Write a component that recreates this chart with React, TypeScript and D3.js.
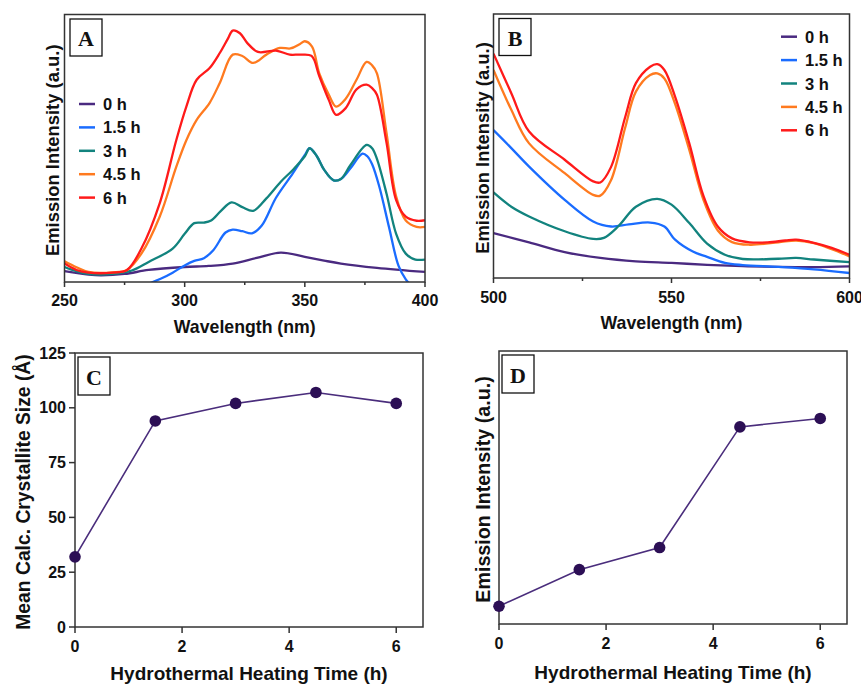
import React from 'react';
import * as d3 from 'd3';

// ---- Panel A: excitation spectra (wavelength nm, intensity 0-100 a.u.)
const a0h = [[250,4.1],[260,2.8],[265,2.5],[275,3],[285,4.5],[300,5.6],[310,6],[320,6.9],[330,9],[340,11],[350,9.4],[358,8],[365,6.9],[380,5.3],[400,3.75]];
const a15h = [[284,-1],[290,1.2],[295,3.5],[300,6.2],[304,7.9],[308,8.9],[312,12],[317,18.5],[320,19.6],[324,19],[328,18.2],[332,21],[338,31.5],[345,40.6],[350,47.5],[352,50],[355,47],[358,42],[362,38],[365,38.5],[369,42.5],[374,48],[376,47],[378,44],[381,35.6],[385,20.6],[389,6],[392,1],[395,-2]];
const a3h = [[250,5.6],[255,4],[260,3],[270,3],[278,4.3],[285,7.5],[295,12.5],[300,18],[304,22],[308,22.2],[311,23],[315,26.5],[319.5,29.75],[324,28],[328.5,26.6],[334,31.25],[340,37.5],[345,41.9],[350,47],[352,50],[355,47],[358,42],[362,38],[365,38.5],[369,43.75],[375.7,51.25],[378,50],[380,46],[384,33],[388,18],[392,10.6],[396,8.4],[400,8.4]];
const a45h = [[250,7.75],[255,5.5],[260,3.75],[270,3.6],[276,4.5],[282,10.6],[289.6,24.4],[296.5,43],[300.7,53],[305,60.6],[310.4,67],[314.6,74.4],[320,85],[324,84.5],[328.5,81.9],[334,85],[339.6,87.5],[344,87.3],[348,89],[350,90],[353,88],[356,78],[360,70],[363,65.6],[367,68.5],[371.5,75.6],[375.7,82.25],[378,81],[380,78],[384,55.6],[388,31.9],[392,23],[396.5,20.6],[400,20.6]];
const a6h = [[250,6.9],[255,4.5],[260,3.5],[270,3.5],[276,4.5],[282,12.5],[289.6,29.4],[296.5,53],[300.7,65.6],[305,75.6],[310.4,80],[314.6,85.6],[318,91],[320,94],[323,93],[326,89.4],[330.5,86],[338,86.5],[343.75,85],[348,85],[352.8,84.5],[356,77],[360,68],[363,62.5],[367,65],[371.5,72],[375.7,73.75],[378,72.5],[380,70],[384,52],[388,30.6],[392,24.4],[396.5,22.9],[400,23.1]];

// ---- Panel B: emission spectra
const b0h = [[500,17],[510,13.5],[520,9.8],[530,7.6],[540,6.3],[550,5.7],[560,5],[570,4.5],[580,4.2],[590,4.1],[600,4.4]];
const b15h = [[500,56],[505,49.2],[510,42.2],[520,29.6],[528,21.4],[533,19.5],[538,20.3],[544,21],[548,19.5],[551,14.5],[556,10],[560,8],[565,5.7],[570,4.9],[580,4.2],[590,3.3],[600,1.9]];
const b3h = [[500,32.4],[505,27],[510,23.3],[520,17.7],[528,14.8],[531,15.2],[535,19.5],[540,27],[546,30],[550,27.8],[555,20.8],[560,13],[565,8.8],[570,7.2],[580,7.3],[585,7.6],[590,7],[600,6]];
const b45h = [[500,78.8],[505,63.7],[510,51],[520,39.7],[528,31.5],[530,31.2],[533,37],[537,57],[540,70.6],[544,76.9],[546,77.5],[548,75.6],[551,66],[555,48.5],[559,29.5],[563,18],[567,13.6],[572,12.6],[580,13.5],[585,14.2],[590,13.2],[595,10.9],[600,8.2]];
const b6h = [[500,85],[505,70],[510,55.5],[520,44.8],[528,36.6],[530,36.2],[533,42],[537,61],[540,73.8],[544,80],[546,81],[548,78.8],[551,68.7],[555,51],[559,31],[563,19.5],[567,15],[572,13.5],[577,13.5],[582,14.2],[585,14.5],[590,13.3],[595,11.4],[600,8.8]];

const seriesNames = ['0 h', '1.5 h', '3 h', '4.5 h', '6 h'];
const seriesColors = ['#4a2a80', '#1a6cff', '#12837e', '#ff7a1f', '#ff1a1a'];

// ---- Panels C and D
const heatTimes = [0, 1.5, 3, 4.5, 6];
const crystalliteSize = [32, 94, 102, 107, 102];
const emissionPeak = [6.5, 19.9, 28, 72.2, 75.3];

const sans = '"Liberation Sans", Arial, sans-serif';
const serif = '"Liberation Serif", "Times New Roman", serif';
const ink = '#111';
const frame = '#333';

type Box = { l: number; r: number; t: number; b: number };

function SpectrumPanel({ box, xDomain, series, letter, legendX, legendY, xTicks, minorTicks, tickLabelY, xLabelY, yLabelX, clipId }:
  { box: Box; xDomain: number[]; series: number[][][]; letter: string; legendX: number; legendY: number; xTicks: number[]; minorTicks: number[]; tickLabelY: number; xLabelY: number; yLabelX: number; clipId: string }) {
  const x = d3.scaleLinear().domain(xDomain).range([box.l, box.r]);
  const y = d3.scaleLinear().domain([0, 100]).range([box.b, box.t]);
  const line = d3.line<number[]>().x(d => x(d[0])).y(d => y(d[1])).curve(d3.curveCatmullRom.alpha(0.5));
  return (
    <g>
      <defs>
        <clipPath id={clipId}><rect x={box.l} y={box.t} width={box.r - box.l} height={box.b - box.t} /></clipPath>
      </defs>
      <g clipPath={`url(#${clipId})`}>
        {series.map((s, i) => (
          <path key={i} d={line(s) || ''} fill="none" stroke={seriesColors[i]} strokeWidth={2.3} />
        ))}
      </g>
      <rect x={box.l} y={box.t} width={box.r - box.l} height={box.b - box.t} fill="none" stroke={frame} strokeWidth={1.5} />
      {xTicks.map(t => (
        <g key={t}>
          <line x1={x(t)} x2={x(t)} y1={box.b} y2={box.b + 5} stroke={frame} strokeWidth={1.5} />
          <text x={x(t)} y={tickLabelY} textAnchor="middle" dominantBaseline="central" fontFamily={sans} fontWeight="bold" fontSize={16} fill={ink}>{t}</text>
        </g>
      ))}
      {minorTicks.map(t => (
        <line key={t} x1={x(t)} x2={x(t)} y1={box.b} y2={box.b + 3} stroke={frame} strokeWidth={1.5} />
      ))}
      <text x={(box.l + box.r) / 2} y={xLabelY} textAnchor="middle" dominantBaseline="central" fontFamily={sans} fontWeight="bold" fontSize={17.7} fill={ink}>Wavelength (nm)</text>
      <text transform={`translate(${yLabelX},${(box.t + box.b) / 2 + 2}) rotate(-90)`} textAnchor="middle" dominantBaseline="central" fontFamily={sans} fontWeight="bold" fontSize={18.4} fill={ink}>Emission Intensity (a.u.)</text>
      <rect x={box.l + 5.5} y={box.t + 4.5} width={32} height={37} fill="#fff" stroke={ink} strokeWidth={1.3} />
      <text x={box.l + 21.5} y={box.t + 24} textAnchor="middle" dominantBaseline="central" fontFamily={serif} fontWeight="bold" fontSize={22} fill={ink}>{letter}</text>
      {seriesNames.map((n, i) => (
        <g key={n}>
          <line x1={legendX} x2={legendX + 16} y1={legendY + i * 23.4} y2={legendY + i * 23.4} stroke={seriesColors[i]} strokeWidth={2.5} />
          <text x={legendX + 24} y={legendY + i * 23.4} dominantBaseline="central" fontFamily={sans} fontWeight="bold" fontSize={16.5} fill={ink}>{n}</text>
        </g>
      ))}
    </g>
  );
}

function TimePanel({ box, values, yDomain, yTicks, letter, yLabel, yLabelX, yLabelSize, tickLabelY, xLabelY }:
  { box: Box; values: number[]; yDomain: number[]; yTicks: number[]; letter: string; yLabel: string; yLabelX: number; yLabelSize: number; tickLabelY: number; xLabelY: number }) {
  const x = d3.scaleLinear().domain([0, 6.5]).range([box.l, box.r]);
  const y = d3.scaleLinear().domain(yDomain).range([box.b, box.t]);
  const pts = heatTimes.map((t, i) => [t, values[i]]);
  const line = d3.line<number[]>().x(d => x(d[0])).y(d => y(d[1]));
  return (
    <g>
      <rect x={box.l} y={box.t} width={box.r - box.l} height={box.b - box.t} fill="none" stroke={frame} strokeWidth={1.5} />
      {[0, 2, 4, 6].map(t => (
        <g key={t}>
          <line x1={x(t)} x2={x(t)} y1={box.b} y2={box.b + 6} stroke={frame} strokeWidth={1.5} />
          <text x={x(t)} y={tickLabelY} textAnchor="middle" dominantBaseline="central" fontFamily={sans} fontWeight="bold" fontSize={16} fill={ink}>{t}</text>
        </g>
      ))}
      {yTicks.map(t => (
        <g key={t}>
          <line x1={box.l - 6} x2={box.l} y1={y(t)} y2={y(t)} stroke={frame} strokeWidth={1.5} />
          <text x={box.l - 9} y={y(t)} textAnchor="end" dominantBaseline="central" fontFamily={sans} fontWeight="bold" fontSize={16} fill={ink}>{t}</text>
        </g>
      ))}
      <path d={line(pts) || ''} fill="none" stroke="#4a2d7c" strokeWidth={1.6} />
      {pts.map((p, i) => (
        <circle key={i} cx={x(p[0])} cy={y(p[1])} r={5.8} fill="#2c0f55" />
      ))}
      <rect x={box.l + 3} y={box.t + 4} width={32} height={38} fill="#fff" stroke={ink} strokeWidth={1.3} />
      <text x={box.l + 19} y={box.t + 24} textAnchor="middle" dominantBaseline="central" fontFamily={serif} fontWeight="bold" fontSize={22} fill={ink}>{letter}</text>
      <text x={(box.l + box.r) / 2} y={xLabelY} textAnchor="middle" dominantBaseline="central" fontFamily={sans} fontWeight="bold" fontSize={19} fill={ink}>Hydrothermal Heating Time (h)</text>
      <text transform={`translate(${yLabelX},${(box.t + box.b) / 2 + 2}) rotate(-90)`} textAnchor="middle" dominantBaseline="central" fontFamily={sans} fontWeight="bold" fontSize={yLabelSize} fill={ink}>{yLabel}</text>
    </g>
  );
}

export default function App() {
  return (
    <svg width={861} height={684} style={{ position: 'absolute', left: 0, top: 0, background: '#fff' }}>
      <rect width={861} height={684} fill="#fff" />
      <SpectrumPanel box={{ l: 64.5, r: 425, t: 14.5, b: 282 }} xDomain={[250, 400]} series={[a0h, a15h, a3h, a45h, a6h]}
        letter="A" legendX={79} legendY={104} xTicks={[250, 300, 350, 400]} minorTicks={[275, 325, 375]}
        tickLabelY={300} xLabelY={327} yLabelX={52} clipId="clipA" />
      <SpectrumPanel box={{ l: 493.5, r: 849.5, t: 14, b: 278 }} xDomain={[500, 600]} series={[b0h, b15h, b3h, b45h, b6h]}
        letter="B" legendX={781} legendY={36.7} xTicks={[500, 550, 600]} minorTicks={[525, 575]}
        tickLabelY={297} xLabelY={323} yLabelX={482} clipId="clipB" />
      <TimePanel box={{ l: 75, r: 423, t: 353, b: 627 }} values={crystalliteSize} yDomain={[0, 125]} yTicks={[0, 25, 50, 75, 100, 125]}
        letter="C" yLabel="Mean Calc. Crystallite Size (Å)" yLabelX={23} yLabelSize={19.3} tickLabelY={646} xLabelY={673} />
      <TimePanel box={{ l: 499, r: 847, t: 351, b: 624 }} values={emissionPeak} yDomain={[0, 100]} yTicks={[]}
        letter="D" yLabel="Emission Intensity (a.u.)" yLabelX={483} yLabelSize={19.7} tickLabelY={643} xLabelY={672} />
    </svg>
  );
}
